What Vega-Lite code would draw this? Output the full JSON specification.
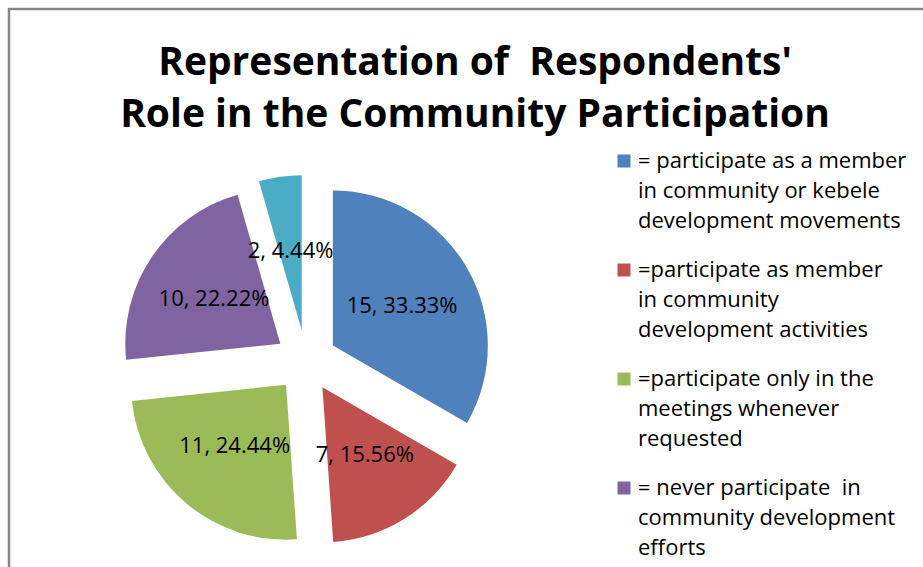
{
  "$schema": "https://vega.github.io/schema/vega-lite/v6.json",
  "width": 1000,
  "height": 650,
  "autosize": {"type": "none"},
  "padding": {"left": 9, "top": 9, "right": 0, "bottom": 0},
  "background": "white",
  "config": {"view": {"stroke": "#868686", "strokeWidth": 2.5}, "font": "Open Sans"},
  "title": {
    "text": ["Representation of \u00a0Respondents'", "Role in the Community Participation"],
    "font": "Open Sans",
    "fontSize": 39,
    "fontWeight": "bold",
    "color": "black",
    "anchor": "middle",
    "frame": "group",
    "dx": -34,
    "offset": -126,
    "lineHeight": 52
  },
  "data": {
    "values": [
      {"category": "= participate as a member\nin community or kebele\ndevelopment movements", "count": 15, "percent": 33.33, "order": 1},
      {"category": "=participate as member\nin community\ndevelopment activities", "count": 7, "percent": 15.56, "order": 2},
      {"category": "=participate only in the\nmeetings whenever\nrequested", "count": 11, "percent": 24.44, "order": 3},
      {"category": "= never participate \u00a0in\ncommunity development\nefforts", "count": 10, "percent": 22.22, "order": 4},
      {"category": "= other", "count": 2, "percent": 4.44, "order": 5}
    ]
  },
  "transform": [
    {"joinaggregate": [{"op": "sum", "field": "count", "as": "total"}]},
    {"window": [{"op": "sum", "field": "count", "as": "cum"}], "sort": [{"field": "order"}], "frame": [null, 0]},
    {"calculate": "2*PI*(datum.cum - datum.count/2)/datum.total", "as": "mid"},
    {"calculate": "sin(datum.mid)", "as": "ex"},
    {"calculate": "-cos(datum.mid)", "as": "ey"},
    {"calculate": "datum.count + ', ' + format(datum.percent, '.2f') + '%'", "as": "lbl"}
  ],
  "encoding": {
    "theta": {"field": "count", "type": "quantitative", "stack": true},
    "order": {"field": "order", "type": "quantitative"},
    "x": {"field": "ex", "type": "quantitative", "scale": {"domain": [-1, 1], "range": [266, 328], "nice": false, "zero": false}, "axis": null},
    "y": {"field": "ey", "type": "quantitative", "scale": {"domain": [-1, 1], "range": [321, 383], "nice": false, "zero": false}, "axis": null}
  },
  "layer": [
    {
      "mark": {"type": "arc", "radius": 155},
      "encoding": {
        "color": {
          "field": "category",
          "type": "nominal",
          "scale": {
            "domain": [
              "= participate as a member\nin community or kebele\ndevelopment movements",
              "=participate as member\nin community\ndevelopment activities",
              "=participate only in the\nmeetings whenever\nrequested",
              "= never participate \u00a0in\ncommunity development\nefforts",
              "= other"
            ],
            "range": ["#4F81BD", "#C0504D", "#9BBB59", "#8064A2", "#4BACC6"]
          },
          "legend": {
            "orient": "none",
            "legendX": 604,
            "legendY": 141,
            "title": null,
            "padding": 0,
            "symbolType": "square",
            "symbolSize": 169,
            "symbolStrokeWidth": 0,
            "labelFont": "Open Sans",
            "labelFontSize": 22,
            "labelColor": "black",
            "labelOffset": 3,
            "labelBaseline": "top",
            "labelLimit": 500,
            "rowPadding": 27,
            "labelExpr": "split(datum.label, '\\n')",
            "encode": {"labels": {"update": {"lineHeight": {"value": 30}, "dy": {"value": -10}}}}
          }
        }
      }
    },
    {
      "mark": {"type": "text", "radius": 80, "fontSize": 22, "font": "Open Sans", "color": "black"},
      "encoding": {
        "text": {"field": "lbl", "type": "nominal"},
        "detail": {"field": "category", "type": "nominal"}
      }
    }
  ]
}
